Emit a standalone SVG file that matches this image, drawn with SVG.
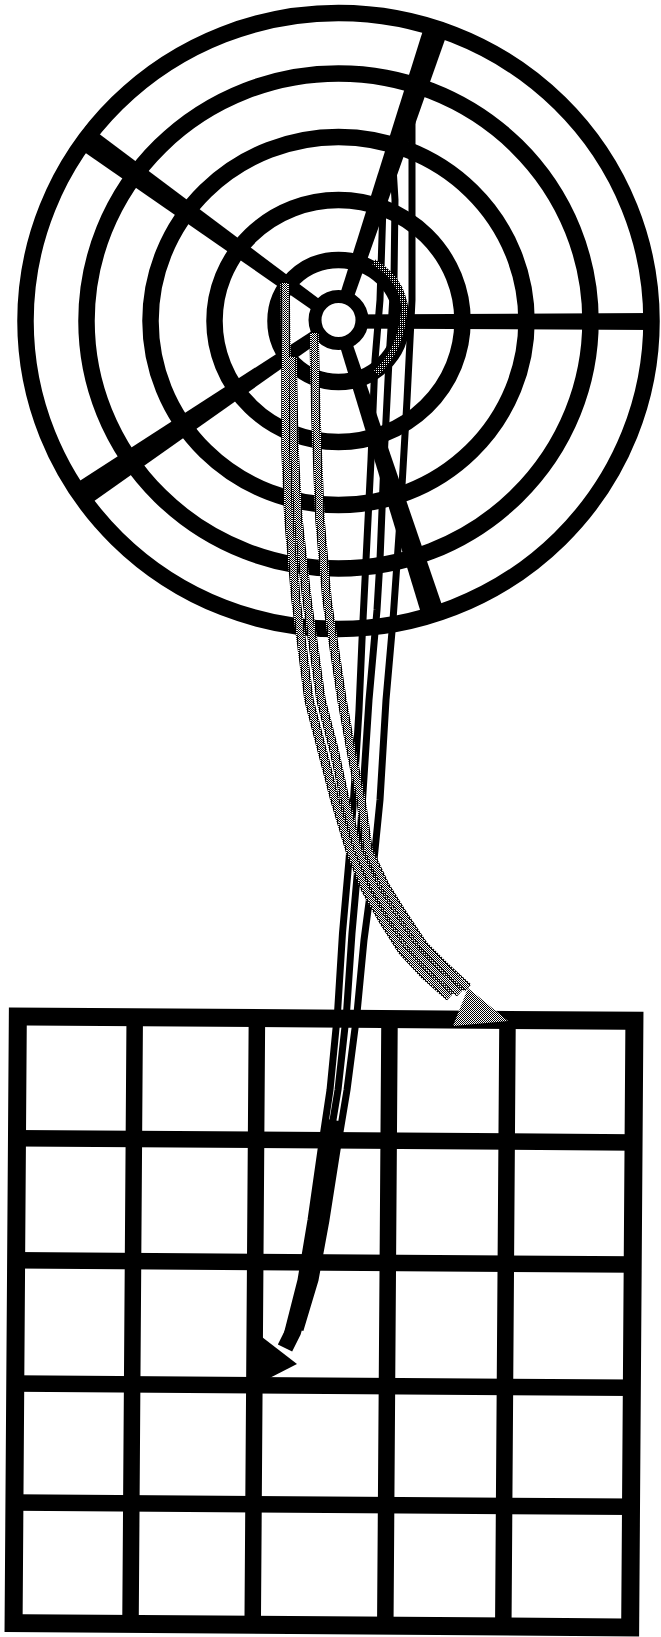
<svg xmlns="http://www.w3.org/2000/svg" width="661" height="1637" viewBox="0 0 661 1637">
<defs>
<pattern id="ht" width="2" height="2" patternUnits="userSpaceOnUse"><rect width="2" height="2" fill="#fff"/><rect width="1" height="1" fill="#000"/><rect x="1" y="1" width="1" height="1" fill="#000"/></pattern>
<pattern id="htd" width="2" height="2" patternUnits="userSpaceOnUse"><rect width="2" height="2" fill="#000"/><rect width="1" height="1" fill="#fff"/></pattern>
<style>
.ring{fill:none;stroke:#000;stroke-width:16.5}
.spoke{fill:#000}
.gl{fill:none;stroke:#000;stroke-width:16.5}
.gb{fill:none;stroke:#000;stroke-width:18}
.k{fill:none;stroke:#000;stroke-width:7;stroke-linejoin:round}
.ge{fill:none;stroke:url(#htd);stroke-width:9.5;stroke-linejoin:round}
.g{fill:none;stroke:url(#ht);stroke-width:6;stroke-linejoin:round}
</style>
</defs>
<rect width="661" height="1637" fill="#fff"/>
<g id="target">
<ellipse class="ring" cx="338.5" cy="321" rx="313" ry="308"/>
<ellipse class="ring" cx="338.5" cy="321" rx="252" ry="247.5"/>
<ellipse class="ring" cx="338.5" cy="321" rx="188" ry="184"/>
<ellipse class="ring" cx="338.5" cy="321" rx="124" ry="121"/>
<ellipse class="ring" cx="338.5" cy="321" rx="63" ry="61"/>
<polygon class="spoke" points="342,316.1 87,124.8 73,144.2 335,325.9"/>
<polygon class="spoke" points="335.1,316 71,486.6 85,507.4 341.9,326"/>
<polygon class="spoke" points="344.7,323.1 447.4,32.8 424.6,25.2 332.3,318.9"/>
<polygon class="spoke" points="338,314.5 653,313 653,330 338,328.5"/>
<polygon class="spoke" points="332.8,322.8 424.6,625.1 446.4,618.1 344.2,319.2"/>
<circle cx="338.5" cy="320" r="23.5" fill="#fff" stroke="#000" stroke-width="13"/>
</g>
<g id="grid" transform="rotate(0.4 324 1322)">
<rect class="gb" x="15.7" y="1018.6" width="616.6" height="606.7"/>
<path class="gl" d="M132.6,1018.6V1625.3M254.8,1018.6V1625.3M387.4,1018.6V1625.3M505.4,1018.6V1625.3"/>
<path class="gl" d="M15.7,1140.3H632.3M15.7,1262.4H632.3M15.7,1385.7H632.3M15.7,1504.7H632.3"/>
</g>
<g id="connectors">
<path class="k" d="M412,95 L412,300 L407,400 L400,520 L393,620 L386,700 L380,800 L372,880 L364,940 L357,1013 L347,1090 L337,1150 L326,1220 L315,1280 L300,1330"/>
<path class="k" d="M392,150 L395,200 L394,280 L389,360 L384,460 L380,560 L377,610 L369,700 L362.5,800 L358.5,860 L352,933 L346.5,1013 L338,1090 L328,1150 L318,1220 L308,1280 L293,1332"/>
<path class="k" d="M383,205 L380,300 L375,360 L371,460 L366,560 L362,640 L359,710 L353.5,800 L349,860 L342.5,933 L337.5,1013 L330,1090 L321,1150 L311,1220 L301,1280 L287,1335"/>
<path d="M333,1120 L328,1150 L318,1220 L308,1280 L293,1332 L285,1348" fill="none" stroke="#000" stroke-width="16" stroke-linejoin="round"/>
<polygon points="262,1337 297,1364 254,1386" fill="#000"/>
<path d="M374,262 Q410,285 403,320 Q398,353 376,373" fill="none" stroke="url(#htd)" stroke-width="6"/>
<path class="ge" d="M285,283 L286,360 L286,450 L289,520 L296,600 L309,700 L322,750 L335,800 L350,850 L366,890 L383,920 L402,950 L425,975 L450,997"/>
<path class="ge" d="M292,357 L294,450 L298,520 L307,600 L321,700 L334,750 L345,800 L358,850 L375,888 L393,918 L413,948 L436,972 L460,993"/>
<path class="ge" d="M314,333 L316,420 L320,520 L327,600 L342,700 L351,750 L361,800 L368,850 L385,886 L403,915 L423,945 L446,968 L468,988"/>
<path class="g" d="M285,283 L286,360 L286,450 L289,520 L296,600 L309,700 L322,750 L335,800 L350,850 L366,890 L383,920 L402,950 L425,975 L450,997"/>
<path class="g" d="M292,357 L294,450 L298,520 L307,600 L321,700 L334,750 L345,800 L358,850 L375,888 L393,918 L413,948 L436,972 L460,993"/>
<path class="g" d="M314,333 L316,420 L320,520 L327,600 L342,700 L351,750 L361,800 L368,850 L385,886 L403,915 L423,945 L446,968 L468,988"/>
<polygon points="468,988 508,1021 453,1026" fill="url(#ht)"/>
</g>
</svg>
